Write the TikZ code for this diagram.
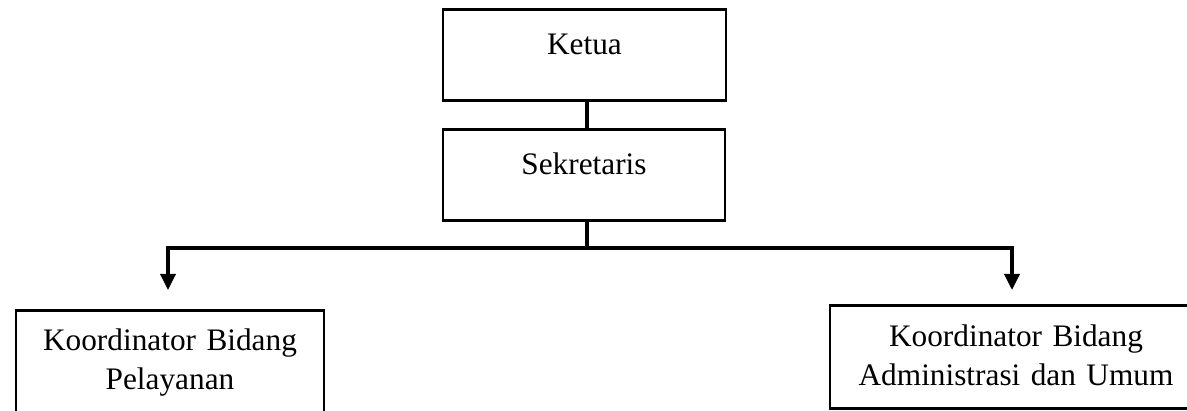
\documentclass[tikz,border=0pt]{standalone}
\usepackage{fontspec}
\setmainfont{Liberation Serif}
\usetikzlibrary{arrows.meta}
\begin{document}
\begin{tikzpicture}[x=1pt,y=-1pt,
  box/.style={draw=black, line width=2.6pt, inner sep=0pt, align=center,
    font=\fontsize{31.3}{39}\selectfont},
  link/.style={draw=black, line width=3.4pt},
  arrowlink/.style={link, -{Triangle[width=15pt,length=16pt]}}]
  \useasboundingbox (0,0) rectangle (1187,411);
  \clip (0,0) rectangle (1187,411);

  % boxes (anchor north, baseline fixed by text height)
  \node[box, anchor=north, text width=283pt, text height=45pt, text depth=46pt]
    (ket) at (584.5,8) {Ketua};
  \node[box, anchor=north, text width=282pt, text height=45pt, text depth=46pt]
    (sek) at (584,128) {Sekretaris};
  \node[box, anchor=north, text width=308pt, text height=40pt, text depth=140pt]
    (pel) at (170,309) {Koordinator Bidang\\Pelayanan};
  \node[box, anchor=north, text width=372pt, text height=41pt, text depth=62pt]
    (adm) at (1016,304) {Koordinator Bidang\\Administrasi dan Umum};

  % connector points
  \coordinate (bar)  at (587,248);
  \coordinate (barL) at (168,248);
  \coordinate (barR) at (1012,248);
  \coordinate (tipL) at (168,290);
  \coordinate (tipR) at (1012,290);

  \draw[link] (ket.south -| bar) -- (sek.north -| bar);
  \draw[link] (sek.south -| bar) -- (bar);
  \draw[arrowlink] (bar) -- (barL) -- (tipL);
  \draw[arrowlink] (bar) -- (barR) -- (tipR);
\end{tikzpicture}
\end{document}
